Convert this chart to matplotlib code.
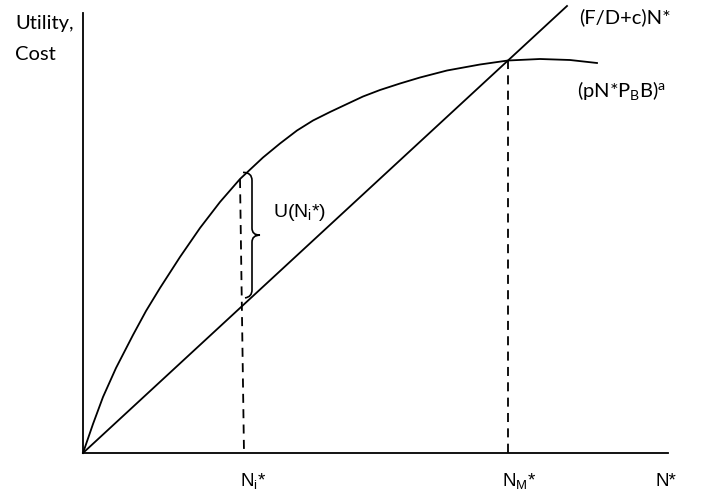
import matplotlib
matplotlib.use("Agg")
import matplotlib.pyplot as plt
import numpy as np
from matplotlib.path import Path
from matplotlib.patches import PathPatch

# utility curve (pN*P_B B)^a
n_util = [0, 1.0, 2.0, 3.3, 5.0, 6.3, 7.7, 9.7, 11.7, 13.7, 15.7, 18.0, 19.7,
          21.4, 23.0, 24.7, 26.4, 28.0, 29.7, 31.7, 33.7, 36.4, 39.7, 42.5,
          45.7, 48.7, 51.4]
utility = [0, 2.9, 5.6, 8.5, 11.8, 14.2, 16.5, 19.6, 22.5, 25.1, 27.4, 29.55,
           30.95, 32.25, 33.25, 34.1, 34.9, 35.65, 36.3, 36.95, 37.55, 38.25,
           38.85, 39.25, 39.4, 39.3, 39.0]

# cost line (F/D+c)N*
n_cost = [0, 48.4]
cost = [0, 44.7]

# dashed markers
ni_x = [15.7, 16.1]
ni_y = [27.4, 0]
nm_x = [42.5, 42.5]
nm_y = [39.25, 0]

calibri = ["Lato", "DejaVu Sans"]
arial = ["Liberation Sans", "DejaVu Sans"]
plt.rcParams["mathtext.default"] = "regular"

fig = plt.figure(figsize=(7.04, 4.98), dpi=100)
ax = fig.add_axes([83 / 704, 45 / 498, 585 / 704, 440 / 498])
ax.set_xlim(0, 58.5)
ax.set_ylim(0, 44)
for s in ["top", "right"]:
    ax.spines[s].set_visible(False)
for s in ["left", "bottom"]:
    ax.spines[s].set_linewidth(1.3)
ax.set_xticks([])
ax.set_yticks([])

ax.plot(n_util, utility, color="black", lw=1.3, clip_on=False,
        solid_joinstyle="round")
ax.plot(n_cost, cost, color="black", lw=1.3, clip_on=False)
ax.plot(ni_x, ni_y, color="black", lw=1.3, ls=(0, (5, 3.5)))
ax.plot(nm_x, nm_y, color="black", lw=1.3, ls=(0, (5, 3.5)))

# brace between curve and line
bx = 16.9
top = np.interp(16.3, n_util, utility)
bot = cost[1] / n_cost[1] * bx
mid = (top + bot) / 2
verts = [(16.0, top + 0.1), (bx, top + 0.1), (bx, top - 0.7),
         (bx, mid + 0.7), (bx, mid), (bx + 0.8, mid),
         (bx, mid), (bx, mid - 0.7),
         (bx, bot + 0.7), (bx, bot), (16.2, bot - 0.1)]
codes = [Path.MOVETO, Path.CURVE3, Path.CURVE3,
         Path.LINETO, Path.CURVE3, Path.CURVE3,
         Path.CURVE3, Path.CURVE3,
         Path.LINETO, Path.CURVE3, Path.CURVE3]
ax.add_patch(PathPatch(Path(verts, codes), fill=False, lw=1.2, color="black"))

ax.text(19.0, mid + 2.3, "U(N$_i$*)", family=arial, fontsize=14, va="center")

fig.text(15 / 704, 1 - 23 / 498, "Utility,", family=calibri, fontsize=14.5, va="center")
fig.text(15 / 704, 1 - 54 / 498, "Cost", family=calibri, fontsize=14.5, va="center")
fig.text(625 / 704, 1 - 17 / 498, "(F/D+c)N*", family=calibri, fontsize=14.5,
         va="center", ha="center")
fig.text(622 / 704, 1 - 90 / 498, "(pN*P$_B$B)$^a$", family=calibri, fontsize=14.5,
         va="center", ha="center")

ax.text(ni_x[0], -3.3, "N$_i$*", family=arial, fontsize=13.5, ha="left", va="baseline")
ax.text(nm_x[0] - 0.6, -3.3, "N$_M$*", family=arial, fontsize=13.5, ha="left", va="baseline")
ax.text(57.2, -3.3, "N*", family=arial, fontsize=13.5, ha="left", va="baseline")

fig.savefig("out.png", dpi=100)
